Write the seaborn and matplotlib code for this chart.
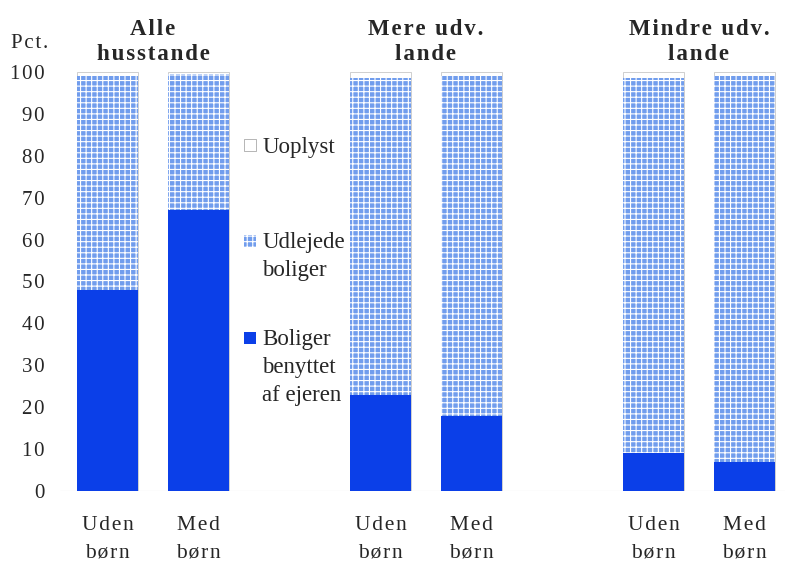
import matplotlib
matplotlib.use("Agg")
import matplotlib.pyplot as plt
import seaborn as sns
import pandas as pd

# data (percent of households)
positions = [0, 1, 3, 4, 6, 7]
bar_labels = ["Uden\nbørn", "Med\nbørn", "Uden\nbørn", "Med\nbørn", "Uden\nbørn", "Med\nbørn"]
group_titles = ["Alle\nhusstande", "Mere udv.\nlande", "Mindre udv.\nlande"]
group_centers = [0.5, 3.5, 6.5]
owner = [48, 67, 23, 18, 9, 7]
rented = [51, 32.5, 75.5, 81, 89.5, 92]
unknown = [1, 0.5, 1.5, 1, 1.5, 1]

df = pd.DataFrame({"pos": positions, "owner": owner, "rented": rented, "unknown": unknown})
df["owner_rented"] = df["owner"] + df["rented"]
df["total"] = df["owner_rented"] + df["unknown"]


def spaced(s, sep="\u200a"):
    # letter-spacing like the scanned original
    return "\n".join(sep.join(line) for line in s.split("\n"))


sns.set_style("white")
plt.rcParams["font.family"] = ["Liberation Serif", "DejaVu Serif"]
plt.rcParams["hatch.linewidth"] = 0.8

c_owner = "#0b3fe8"
c_rented = "#719ded"

fig = plt.figure(figsize=(7.85, 5.61), dpi=100)
ax = fig.add_axes([60 / 785, 70 / 561, 725 / 785, 419 / 561])

# stacked bars drawn from the top down
sns.barplot(data=df, x="pos", y="total", native_scale=True, width=0.68,
            color="white", edgecolor="#c8c8c8", linewidth=0.6, ax=ax, saturation=1)
sns.barplot(data=df, x="pos", y="owner_rented", native_scale=True, width=0.68,
            color=c_rented, edgecolor="white", linewidth=0, hatch="+++", ax=ax, saturation=1)
sns.barplot(data=df, x="pos", y="owner", native_scale=True, width=0.68,
            color=c_owner, linewidth=0, ax=ax, saturation=1)

ax.axhline(0, color="#d5d5d5", lw=0.8, zorder=0)

ax.set_xlim((60 - 107.5) / 91, (785 - 107.5) / 91)
ax.set_ylim(0, 100)
ax.set_yticks(range(0, 101, 10))
ax.set_yticklabels([spaced(str(v)) for v in range(0, 101, 10)])
ax.set_xticks(positions)
ax.set_xticklabels([spaced(t) for t in bar_labels], fontsize=15.5, linespacing=1.6)
ax.tick_params(axis="y", labelsize=15, pad=11, length=0)
ax.tick_params(axis="x", pad=18, length=0)
ax.set_xlabel("")
ax.set_ylabel("")
for s in ax.spines.values():
    s.set_visible(False)

# group titles
for cx, t in zip(group_centers, group_titles):
    ax.text(cx, 101.6, spaced(t), ha="center", va="bottom", fontsize=16.5,
            fontweight="bold", linespacing=1.25, clip_on=False)
fig.text(11 / 785, 1 - 43 / 561, spaced("Pct."), fontsize=15, va="center", ha="left")

# legend drawn as text
lx, tx = 1.565, 1.70
ax.scatter([lx], [82.6], marker="s", s=80, color="white", edgecolor="#aaaaaa", linewidth=0.6)
ax.scatter([lx], [59.7], marker="s", s=80, color=c_rented, hatch="+++", edgecolor="white", linewidth=0)
ax.scatter([lx], [36.5], marker="s", s=80, color=c_owner, linewidth=0)
ax.text(tx, 82.0, "Uoplyst", fontsize=16.5, va="center", ha="left")
ax.text(tx, 61.8, "Udlejede\nboliger", fontsize=16.5, va="top", ha="left", linespacing=1.42)
ax.text(tx, 38.6, "Boliger\nbenyttet\naf ejeren", fontsize=16.5, va="top", ha="left", linespacing=1.42)

fig.savefig("out.png", dpi=100)
